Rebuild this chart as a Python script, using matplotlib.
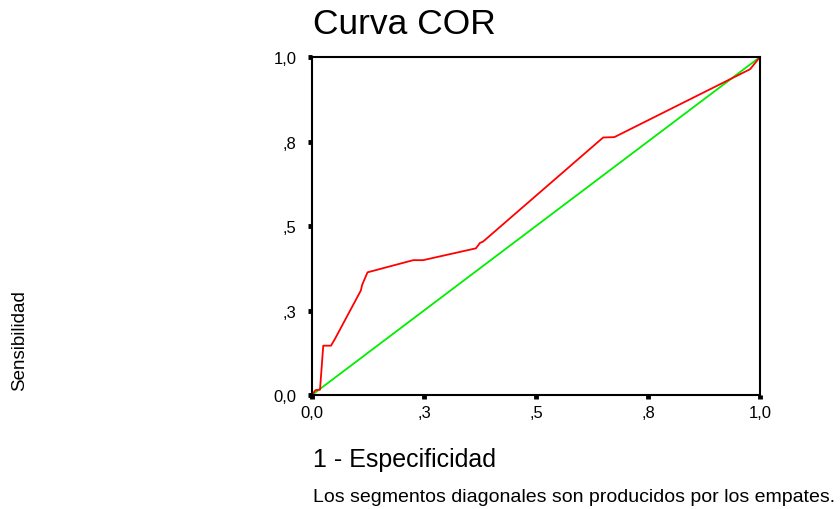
import numpy as np
import matplotlib
matplotlib.use("Agg")
import matplotlib.pyplot as plt

plt.rcParams['font.family'] = ['Liberation Sans', 'DejaVu Sans']

# ROC curve points (1 - especificidad, sensibilidad)
fpr = [0.0, 0.0067, 0.0089, 0.0179, 0.0252, 0.0424, 0.0513, 0.109, 0.112,
       0.124, 0.226, 0.248, 0.366, 0.375, 0.382, 0.650, 0.675, 0.978, 1.0]
tpr = [0.0, 0.0127, 0.0148, 0.0157, 0.146, 0.146, 0.166, 0.309, 0.326,
       0.363, 0.399, 0.399, 0.434, 0.450, 0.454, 0.762, 0.763, 0.964, 1.0]
ref = [0.0, 1.0]

ticks = [0.0, 0.25, 0.5, 0.75, 1.0]
tick_labels = ['0,0', ',3', ',5', ',8', '1,0']

fig = plt.figure(figsize=(8.4, 5.1), dpi=100)
ax = fig.add_axes([0.3714, 0.2235, 0.5333, 0.6627])

ax.plot(ref, ref, color='#00ee00', lw=1.3)
ax.plot(fpr, tpr, color='#ff0000', lw=1.3)

ax.set_xlim(0, 1)
ax.set_ylim(0, 1)
ax.set_xticks(ticks)
ax.set_xticklabels(tick_labels)
ax.set_yticks(ticks)
ax.set_yticklabels(tick_labels)
ax.tick_params(direction='out', length=3, width=3.5, labelsize=12)
ax.tick_params(axis='y', pad=8)
ax.tick_params(axis='x', pad=4)
for s in ax.spines.values():
    s.set_linewidth(1.5)

fig.text(313/840, 1 - 24/510, 'Curva COR', fontsize=25.5, ha='left', va='center')
fig.text(20/840, 1 - 341/510, 'Sensibilidad', fontsize=13.5, rotation=90,
         ha='center', va='center')
fig.text(313/840, 1 - 460/510, '1 - Especificidad', fontsize=18, ha='left', va='center')
fig.text(313/840, 1 - 498/510, 'Los segmentos diagonales son producidos por los empates.',
         fontsize=14, ha='left', va='center')

fig.savefig('out.png', dpi=100)
